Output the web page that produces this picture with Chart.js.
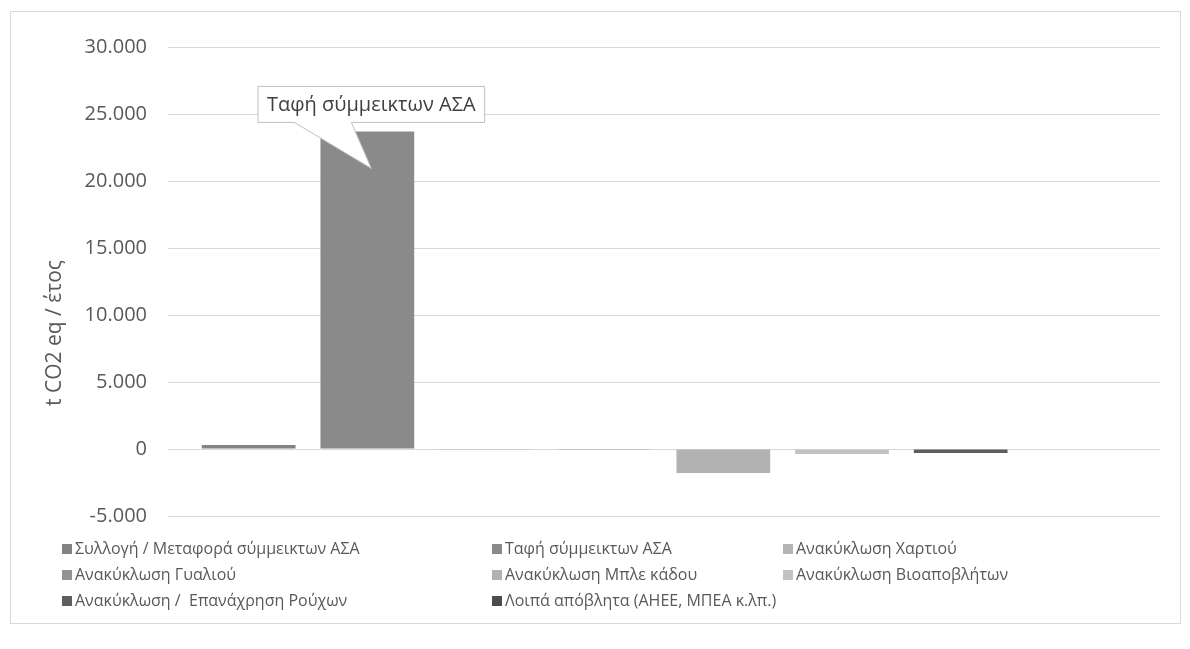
<!DOCTYPE html>
<html>
<head>
<meta charset="utf-8">
<script src="https://cdn.jsdelivr.net/npm/chart.js@4"></script>
<style>
  body { margin: 0; background: #fff; }
  #wrap { position: relative; width: 1190px; height: 649px; }
  #frame { position: absolute; left: 10px; top: 11px; width: 1169px; height: 611px; border: 1px solid #d9d9d9; }
  #c { position: absolute; left: 0; top: 0; }
</style>
</head>
<body>
<div id="wrap">
  <div id="frame"></div>
  <canvas id="c" width="1190" height="649"></canvas>
</div>
<script>
// series names (legend) and one value per series, t CO2 eq / year
const seriesNames = [
  'Συλλογή / Μεταφορά σύμμεικτων ΑΣΑ',
  'Ταφή σύμμεικτων ΑΣΑ',
  'Ανακύκλωση Χαρτιού',
  'Ανακύκλωση Γυαλιού',
  'Ανακύκλωση Μπλε κάδου',
  'Ανακύκλωση Βιοαποβλήτων',
  'Ανακύκλωση /  Επανάχρηση Ρούχων',
  'Λοιπά απόβλητα (ΑΗΕΕ, ΜΠΕΑ κ.λπ.)'
];
const seriesValues = [300, 23700, -60, -60, -1800, -370, -300, 0];
const seriesColors = ['#838383', '#8a8a8a', '#b4b4b4', '#939393', '#b2b2b2', '#c2c2c2', '#5e5e5e', '#4c4c4c'];
const categories = [''];
const yTicks = { min: -5000, max: 30000, step: 5000 };
const calloutText = 'Ταφή σύμμεικτων ΑΣΑ';
const axisTitle = 't CO2 eq / έτος';

const FONT = "'Open Sans', sans-serif";
const TXT = '#595959';

function fmt(v) {
  return String(v).replace(/\B(?=(\d{3})+(?!\d))/g, '.');
}

// callout box pointing at the landfill bar
const calloutPlugin = {
  id: 'callout',
  afterDatasetsDraw(chart) {
    const bar = chart.getDatasetMeta(1).data[0];
    if (!bar) return;
    const ctx = chart.ctx;
    const cx = bar.x, top = bar.y;
    ctx.save();
    ctx.font = '20px ' + FONT;
    const w = ctx.measureText(calloutText).width + 18;
    const h = 36;
    const bx = cx + 4 - w / 2, by = top - 45;
    ctx.fillStyle = '#fff';
    ctx.strokeStyle = '#bfbfbf';
    ctx.lineWidth = 1;
    ctx.beginPath();
    ctx.moveTo(bx, by);
    ctx.lineTo(bx + w, by);
    ctx.lineTo(bx + w, by + h);
    ctx.lineTo(cx - 16, by + h);
    ctx.lineTo(cx + 4, top + 37);
    ctx.lineTo(cx - 73, by + h);
    ctx.lineTo(bx, by + h);
    ctx.closePath();
    ctx.fill();
    ctx.stroke();
    ctx.fillStyle = '#404040';
    ctx.textBaseline = 'middle';
    ctx.fillText(calloutText, bx + 9, by + h / 2 + 1);
    ctx.restore();
  }
};

// Excel-like legend in three columns under the plot, plus the axis title
const legendPlugin = {
  id: 'gridLegend',
  afterDraw(chart) {
    const ctx = chart.ctx;
    const colX = [62, 492, 783];
    const rowY = [549, 575, 601];
    ctx.save();
    ctx.font = '16px ' + FONT;
    ctx.textBaseline = 'middle';
    chart.data.datasets.forEach((ds, i) => {
      const x = colX[i % 3], y = rowY[Math.floor(i / 3)];
      ctx.fillStyle = ds.backgroundColor;
      ctx.fillRect(x, y - 5, 10, 10);
      ctx.fillStyle = TXT;
      ctx.fillText(ds.label, x + 13, y);
    });
    ctx.translate(55, 333);
    ctx.rotate(-Math.PI / 2);
    ctx.font = '21px ' + FONT;
    ctx.textAlign = 'center';
    ctx.fillText(axisTitle, 0, 0);
    ctx.restore();
  }
};

new Chart(document.getElementById('c'), {
  type: 'bar',
  data: {
    labels: categories,
    datasets: seriesNames.map((name, i) => ({
      label: name,
      data: [seriesValues[i]],
      backgroundColor: seriesColors[i]
    }))
  },
  options: {
    responsive: false,
    animation: false,
    categoryPercentage: 0.957,
    barPercentage: 0.79,
    layout: { padding: { top: 47, right: 30, bottom: 133, left: 0 } },
    plugins: {
      legend: { display: false },
      tooltip: { enabled: false }
    },
    scales: {
      x: { display: false },
      y: {
        min: yTicks.min,
        max: yTicks.max,
        afterFit(scale) { scale.width = 168; },
        border: { display: false },
        grid: { color: '#d9d9d9', drawTicks: false },
        ticks: {
          stepSize: yTicks.step,
          padding: 21,
          color: TXT,
          font: { family: FONT, size: 20 },
          callback: v => fmt(v)
        }
      }
    }
  },
  plugins: [calloutPlugin, legendPlugin]
});
</script>
</body>
</html>
